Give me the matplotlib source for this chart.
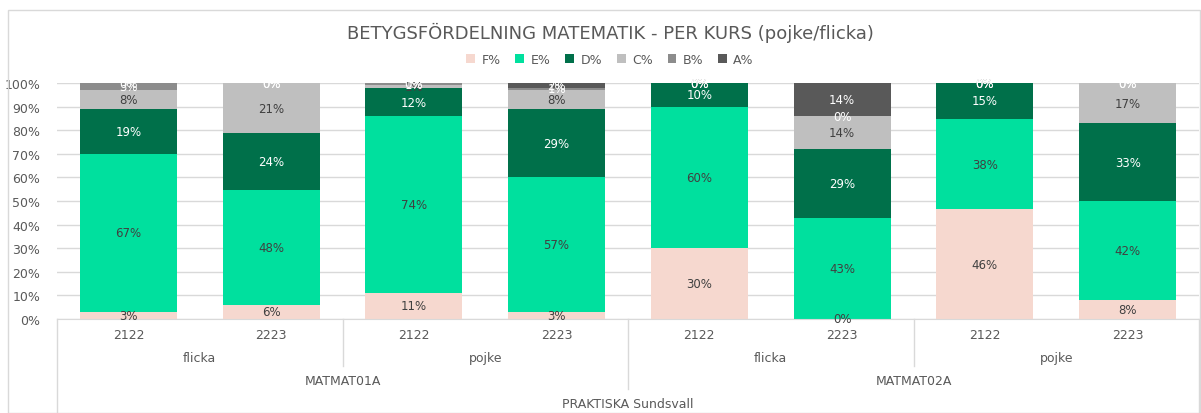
import matplotlib.pyplot as plt
import matplotlib.transforms as mtransforms
from matplotlib.patches import Rectangle
import numpy as np

# data (percent per grade, per bar)
years = ["2122", "2223", "2122", "2223", "2122", "2223", "2122", "2223"]
genders = ["flicka", "pojke", "flicka", "pojke"]
courses = ["MATMAT01A", "MATMAT02A"]
school = "PRAKTISKA Sundsvall"

grades = ["F%", "E%", "D%", "C%", "B%", "A%"]
f_pct = [3, 6, 11, 3, 30, 0, 46, 8]
e_pct = [67, 48, 74, 57, 60, 43, 38, 42]
d_pct = [19, 24, 12, 29, 10, 29, 15, 33]
c_pct = [8, 21, 1, 8, 0, 14, 0, 17]
b_pct = [3, 0, 1, 1, 0, 0, 0, 0]
a_pct = [0, 0, 0, 2, 0, 14, 0, 0]

colors = ["#F6D8CF", "#00E09E", "#00704A", "#BFBFBF", "#8C8C8C", "#595959"]
label_colors = ["#404040", "#404040", "white", "#404040", "white", "white"]

plt.rcParams['font.family'] = ['DejaVu Sans']
txt = "#595959"

fig = plt.figure(figsize=(12.01, 4.14), dpi=100)
W, H = 1201, 414
ax = fig.add_axes([57 / W, (H - 320) / H, (1199 - 57) / W, (320 - 84) / H])

series = [f_pct, e_pct, d_pct, c_pct, b_pct, a_pct]
totals = np.sum(np.array(series, dtype=float), axis=0)
x = np.arange(len(years))
bottom = np.zeros(len(years))
for vals, col, lcol, name in zip(series, colors, label_colors, grades):
    raw = np.array(vals, dtype=float)
    h = raw / totals * 100  # 100% stacked
    ax.bar(x, h, 0.68, bottom=bottom, color=col, label=name, zorder=2)
    for xi, v, hh, b in zip(x, raw, h, bottom):
        ax.text(xi, b + hh / 2, f"{int(v)}%", ha="center", va="center",
                fontsize=8.5, color=lcol, zorder=3)
    bottom += h

ax.set_xlim(-0.5, len(years) - 0.5)
ax.set_ylim(0, 100)
ax.set_yticks(range(0, 101, 10))
ax.set_yticklabels([f"{v}%" for v in range(0, 101, 10)], fontsize=9, color=txt)
ax.yaxis.grid(True, color="#D9D9D9", lw=1, zorder=0)
ax.set_xticks([])
ax.tick_params(axis="y", length=0, pad=12)
for s in ["left", "right", "top"]:
    ax.spines[s].set_visible(False)
ax.spines["bottom"].set_color("#D9D9D9")

# multi-level category axis
trans = mtransforms.blended_transform_factory(ax.transData, fig.transFigure)
def fy(p):
    return (H - p) / H

for xi, yr in zip(x, years):
    ax.text(xi, fy(336), yr, transform=trans, ha="center", va="center",
            fontsize=9, color=txt)
for i, g in enumerate(genders):
    ax.text(2 * i + 0.5, fy(359), g, transform=trans, ha="center", va="center",
            fontsize=9, color=txt)
for i, c in enumerate(courses):
    ax.text(4 * i + 1.5, fy(382), c, transform=trans, ha="center", va="center",
            fontsize=9, color=txt)
ax.text(3.5, fy(405), school, transform=trans, ha="center", va="center",
        fontsize=9, color=txt)

seps = [(-0.5, 414), (1.5, 367), (3.5, 390), (5.5, 367), (7.5, 414)]
for sx, ybot in seps:
    ax.plot([sx, sx], [fy(320), fy(ybot)], transform=trans, color="#D9D9D9",
            lw=1, clip_on=False)

fig.text(0.508, fy(33), "BETYGSFÖRDELNING MATEMATIK - PER KURS (pojke/flicka)",
         ha="center", va="center", fontsize=13, color=txt)

fig.legend(loc="center", bbox_to_anchor=(0.508, fy(60)), ncol=6, frameon=False,
           fontsize=9, handlelength=0.7, handleheight=0.7, handletextpad=0.5,
           columnspacing=1.2, labelcolor=txt)

fig.patches.append(Rectangle((8 / W, 0), (1200 - 8) / W, (H - 11) / H,
                             transform=fig.transFigure, fill=False,
                             edgecolor="#D9D9D9", lw=1))

fig.savefig("out.png", dpi=100)
